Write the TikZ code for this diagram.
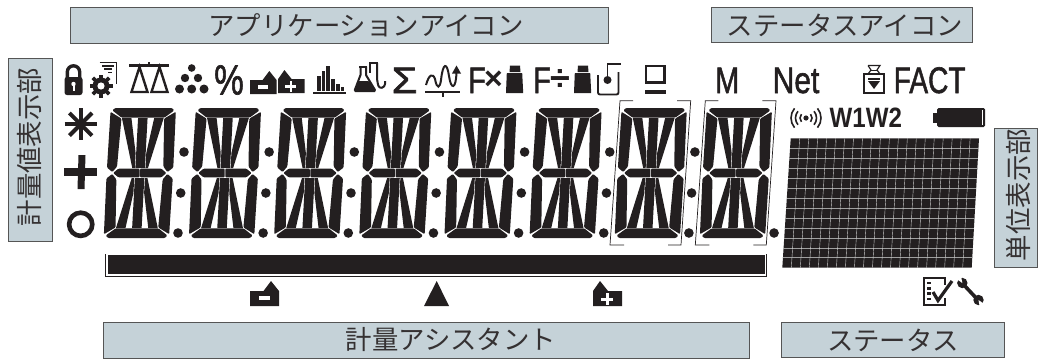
\documentclass[tikz,border=0pt]{standalone}
\usepackage{fontspec}
\setmainfont{Liberation Sans}
\newfontfamily\cjk{Noto Sans CJK JP}
\newfontfamily\medfont[FakeBold=1.6]{Liberation Sans}
\usetikzlibrary{arrows.meta}
\definecolor{ink}{HTML}{231F20}
\definecolor{boxfill}{HTML}{C5D2D8}
\definecolor{boxedge}{HTML}{555555}
\tikzset{
  lblbox/.style={fill=boxfill,draw=boxedge,line width=0.8pt},
  lbltext/.style={font=\cjk\fontsize{26.4}{26.4}\selectfont,text=ink!92,inner sep=0pt},
  seg/.style={fill=ink,rounded corners=1pt},
  icon/.style={fill=ink},
  iconline/.style={draw=ink,line width=2.4pt},
  bigtext/.style={font=\medfont\fontsize{37}{37}\selectfont,text=ink,inner sep=0pt,anchor=base west},
}
\newcommand{\halfsegs}{%
  \fill[seg] (2.6,62.5)--(5,65)--(62,65)--(64.3,62.5)--(55,55.4)--(12,55.4)--cycle;
  \fill[seg] (0.7,61.2)--(12,54.4)--(10.2,6.5)--(5.8,0.9)--(0.2,5.5)--cycle;
  \fill[seg] (66,61.2)--(54.7,54.4)--(56.5,6.5)--(60.9,0.9)--(66.5,5.5)--cycle;
  \fill[ink] (12.5,54.8)--(22,54.8)--(28,20)--(28,5)--(25.5,5)--cycle;
  \fill[ink] (28.6,54.8)--(38.1,54.8)--(38.1,5)--(28.6,5)--cycle;
  \fill[ink] (44.7,54.8)--(54.2,54.8)--(41.2,5)--(38.7,5)--(38.7,20)--cycle;
}
\newcommand{\lcddigit}[1]{%
  \begin{scope}[shift={(#1+3.5,173)},x={(1pt,0pt)},y={(0.054pt,1pt)}]\halfsegs\end{scope}
  \begin{scope}[shift={(#1+3.5,173)},x={(1pt,0pt)},y={(-0.054pt,-1pt)}]\halfsegs\end{scope}
  \begin{scope}[shift={(#1+3.5,173)}]
    \fill[seg] (6.6,0)--(12,-4.4)--(33,-4.4)--(33,4.4)--(12,4.4)--cycle;
    \fill[seg] (60,0)--(54.7,-4.4)--(33.6,-4.4)--(33.6,4.4)--(54.7,4.4)--cycle;
  \end{scope}
}
\newcommand{\bracketpair}[1]{%
  \draw[draw=ink,line width=0.7pt] (#1+633,100.7)--(#1+620,100.7)--(#1+610,245)--(#1+624,245);
  \draw[draw=ink,line width=0.7pt] (#1+677,100.7)--(#1+690.7,100.7)--(#1+681,245)--(#1+668,245);
}
\newcommand{\weighticon}[1]{%
  \fill[icon] (#1+4,65.5)--(#1+14,65.5)--(#1+14.5,72)--(#1+3.5,72)--cycle;
  \fill[icon] (#1+0.8,73)--(#1+16.2,73)--(#1+17.2,93)--(#1,93)--cycle;
}
\newcommand{\houseminus}[3]{%
  \begin{scope}[shift={(#1,#2)},scale=#3]
  \fill[icon] (0,25)--(0,10)--(13.5,10)--(21,0)--(29,10)--(29,25)--cycle;
  \fill[white] (9,15.3) rectangle (20,19.3);
  \end{scope}
}
\newcommand{\houseplus}[3]{%
  \begin{scope}[shift={(#1,#2)},scale=#3]
  \fill[icon] (0,25)--(0,10)--(7,0)--(15,10)--(29,10)--(29,25)--cycle;
  \fill[white] (8,16.5) rectangle (20,19.5);
  \fill[white] (12.5,12) rectangle (15.5,24);
  \end{scope}
}
\begin{document}
\begin{tikzpicture}[x=1pt,y=-1pt]
\useasboundingbox (0,0) rectangle (1038,359);
% label boxes
\path[lblbox] (70,7.5) rectangle (608,43);
\path[lblbox] (711,7.5) rectangle (972,42);
\path[lblbox] (8.5,58) rectangle (52,241);
\path[lblbox] (994.5,128) rectangle (1037.5,267);
\path[lblbox] (103.5,322) rectangle (749,358);
\path[lblbox] (781,322) rectangle (1004,357);
\node[lbltext] (appicons) at (366,25) {アプリケーションアイコン};
\node[lbltext] (staticons) at (845,25) {ステータスアイコン};
\node[lbltext,rotate=90] (weightdisp) at (29.5,147) {計量値表示部};
\node[lbltext,rotate=90] (unitdisp) at (1018.5,195) {単位表示部};
\node[lbltext] (assist) at (451,340) {計量アシスタント};
\node[lbltext] (status) at (893,340) {ステータス};
% digits
\foreach \n in {0,...,7}{\pgfmathsetmacro{\bx}{103+85.15*\n}\lcddigit{\bx}}
% dots
\foreach \n in {0,...,6}{
  \pgfmathsetmacro{\ox}{85.15*\n}
  \fill[icon] (\ox+184,152) circle (4.8);
  \fill[icon] (\ox+180.7,193) circle (4.8);
}
\foreach \n in {0,...,7}{
  \pgfmathsetmacro{\ox}{85.15*\n}
  \fill[icon] (\ox+178,233) circle (4.8);
}
\bracketpair{0}
\bracketpair{85.3}
% assist bar
\fill[icon] (108,255) rectangle (765,274.3);
\draw[draw=ink,line width=0.7pt] (105.8,254)--(105.8,276.5);
\draw[draw=ink,line width=0.7pt] (106,276.3)--(766.3,276.3)--(766.3,254);
% left symbols
\foreach \a in {0,45,90,135}{
  \draw[draw=ink,line width=4pt] (80.7,124.3)++(\a:-16)--++(\a:32);
}
\fill[icon] (64,167.7) rectangle (97.3,176);
\fill[icon] (78.5,155)--(85.5,155)--(84.5,189)--(77.5,189)--cycle;
\draw[draw=ink,line width=4.6pt] (80.7,224.3) circle (11.6);
% lock
\draw[draw=ink,line width=3.4pt] (67.3,79)--(67.3,72) arc[start angle=180,end angle=0,x radius=6.2,y radius=-6.2]--(79.7,79);
\fill[icon,rounded corners=2.5pt] (64.5,77) rectangle (82.5,95);
\fill[white] (73.5,84) circle (2.2);
\fill[white] (72.5,85) rectangle (74.5,90.5);
% doc + gear
\draw[draw=ink,line width=1.4pt] (99.5,62.6)--(116.5,62.6)--(116.5,84);
\draw[draw=ink,line width=1.2pt] (102,66)--(113.5,66);
\draw[draw=ink,line width=1.2pt] (104,69)--(112,69);
\draw[draw=ink,line width=1.2pt] (108,72.5)--(112,72.5);
\fill[white] (101,86) circle (13);
\foreach \a in {0,45,...,315}{\draw[draw=ink,line width=3.8pt] (101,86)--++(\a:11.5);}
\fill[icon] (101,86) circle (8.5);
\fill[white] (101,86) circle (3.6);
% balance
\draw[iconline] (129,65.5)--(169,65.5);
\draw[iconline] (149,62)--(149,66);
\draw[iconline,line join=miter] (139.5,67)--(131.5,92)--(147.5,92)--cycle;
\draw[iconline,line join=miter] (159.5,67)--(151.5,92)--(167.5,92)--cycle;
% particles
\fill[icon] (191.7,68) circle (3.8);
\fill[icon] (185,78) circle (4.2);
\fill[icon] (198,78) circle (4.2);
\fill[icon] (179.5,89) circle (4.5);
\fill[icon] (191.7,89) circle (4.5);
\fill[icon] (204,89) circle (4.5);
% percent
\node[inner sep=0pt,text=ink,anchor=center] (percent) at (229,80) {\medfont\fontsize{39}{39}\selectfont\scalebox{.85}[1.08]{\%}};
% houses
\houseminus{250}{71}{0.92}
\houseplus{278}{70}{0.92}
% chart
\fill[icon] (313,92) rectangle (346,93.6);
\fill[icon] (317,76) rectangle (320.5,90.5);
\fill[icon] (321.5,71) rectangle (325,90.5);
\fill[icon] (326,66) rectangle (329.5,90.5);
\fill[icon] (331,79) rectangle (334.5,90.5);
\fill[icon] (336,84) rectangle (339.5,90.5);
\fill[icon] (340.5,87) rectangle (344,90.5);
% flasks
\draw[draw=ink,line width=2pt] (369,63)--(378,63);
\draw[draw=ink,line width=2pt,rounded corners=3pt] (377,63)--(377,80)--(379,88.5)--(385,87)--(385,81);
\draw[draw=ink,line width=2pt] (370,63)--(370,73);
\draw[draw=ink,line width=2pt] (359,66.5)--(367,66.5);
\draw[draw=ink,line width=2pt,line join=round] (360.5,66.5)--(360.5,75)--(354.8,90)--(375,90)--(366,75)--(366,66.5);
\fill[icon,rounded corners=1pt] (358,81)--(369,81)--(376,92)--(354,92)--cycle;
% sigma
\node[inner sep=0pt,text=ink,anchor=base west] (sigma) at (391.5,93) {\medfont\fontsize{37}{37}\selectfont\scalebox{1.12}[1]{Σ}};
% wave
\draw[draw=ink,line width=2pt] (426,85) .. controls (429,74) and (433,73) .. (435,79) .. controls (437,90) and (440,88) .. (441,80) .. controls (443,62) and (447,62) .. (449,76) .. controls (451,90) and (456,90) .. (456.5,72);
\fill[icon] (456.5,65.5)--(452,73.5)--(461,73.5)--cycle;
\fill[icon] (425,90.5) rectangle (460,92.5);
\fill[icon] (442,92) rectangle (443.5,97);
% F x weight
\node[bigtext] (fa) at (468,93) {\scalebox{.78}[1]{F}};
\node[inner sep=0pt,text=ink] (times) at (493.5,80) {\fontsize{32}{32}\selectfont\textbf{×}};
\weighticon{506}
\node[bigtext] (fb) at (533,93) {\scalebox{.78}[1]{F}};
\node[inner sep=0pt,text=ink] (divide) at (560.7,80) {\fontsize{36}{36}\selectfont\bfseries ÷};
\weighticon{574}
% beaker
\draw[draw=ink,line width=1.9pt,rounded corners=2pt] (598,75)--(598,94.5)--(618.5,94.5)--(618.5,72);
\draw[draw=ink,line width=1.6pt] (607.5,80)--(607.5,64)--(621,64);
\fill[icon] (607.5,80) circle (4);
% tare
\draw[draw=ink,line width=2.4pt] (646,66)--(664.5,66)--(664.5,82.5)--(646,82.5)--cycle;
\fill[icon] (644.5,90) rectangle (666,93.5);
% M Net FACT
\node[bigtext] (mm) at (715,93) {\scalebox{.78}[1]{M}};
\node[bigtext] (net) at (772.5,93) {\scalebox{.81}[1]{Net}};
\node[bigtext] (fact) at (893.5,93) {\scalebox{.76}[1]{FACT}};
% weight outline
\draw[draw=ink,line width=1.2pt] (864,74)--(884,74)--(884,93)--(864,93)--cycle;
\draw[draw=ink,line width=1.2pt] (868,65.5)--(880,65.5)--(877,70)--(880,74);
\draw[draw=ink,line width=1.2pt] (868,65.5)--(871,70)--(868,74);
\draw[draw=ink,line width=1pt] (871,70)--(877,70);
\fill[icon] (868,81)--(880,81)--(874,89)--cycle;
\fill[icon] (868,77.5) rectangle (880,79.5);
% wireless
\fill[icon] (806,118) circle (2.6);
\foreach \r in {6,10.5,15}{
  \draw[draw=ink,line width=1.6pt] (806,118)++(-40:\r) arc[start angle=-40,end angle=40,radius=\r];
  \draw[draw=ink,line width=1.6pt] (806,118)++(140:\r) arc[start angle=140,end angle=220,radius=\r];
}
\node[inner sep=0pt,anchor=base west,text=ink] (wone) at (829.5,127) {\fontsize{28}{28}\selectfont\scalebox{.86}[1]{\textbf{W1W2}}};
% battery
\fill[icon] (933,113) rectangle (938,122.5);
\fill[icon,rounded corners=1.5pt] (937,108) rectangle (985,127);
\draw[draw=white,line width=0.6pt] (982.5,110)--(982.5,125);
% matrix
\fill[icon] (782.3,267.7)--(971.7,267.7)--(979,138.3)--(790.7,138.3)--cycle;
\foreach \r in {1,...,12}{
  \pgfmathsetmacro{\yy}{138.3+\r*9.95}
  \pgfmathsetmacro{\xl}{782.3+8.2*(267.7-\yy)/129.4}
  \pgfmathsetmacro{\xr}{971.7+7.3*(267.7-\yy)/129.4}
  \draw[draw=gray!75,line width=0.5pt] (\xl,\yy)--(\xr,\yy);
}
\foreach \c in {1,...,20}{
  \pgfmathsetmacro{\xb}{782.3+\c*9.02}
  \pgfmathsetmacro{\xt}{790.7+\c*8.97}
  \draw[draw=gray!35,line width=0.4pt] (\xb,267.7)--(\xt,138.3);
}
% bottom icons
\houseminus{250}{281}{1}
\fill[icon] (436.7,281)--(424,306)--(449,306)--cycle;
\houseplus{593}{281}{1}
% checklist
\draw[draw=ink,line width=2pt] (924,277.8)--(944.5,277.8)--(944.5,305)--(924,305)--cycle;
\fill[white] (936,285) rectangle (950,298);
\foreach \y in {283,288.5,293.5,299}{\fill[icon] (927,\y-1.3) rectangle (931,\y+1.3);}
\draw[draw=ink,line width=3.2pt] (933,292)--(938,300.5)--(952,281);
% wrench
\draw[draw=ink,line width=3.6pt] (963,284)--(978,300);
\fill[icon] (962.3,283) circle (5.2);
\fill[icon] (978.5,300) circle (5.2);
\fill[white] (962.3,283)--++(-100:7)--++(170:7)--cycle;
\fill[white] (978.5,300)--++(80:7)--++(-10:7)--cycle;
\end{tikzpicture}
\end{document}
